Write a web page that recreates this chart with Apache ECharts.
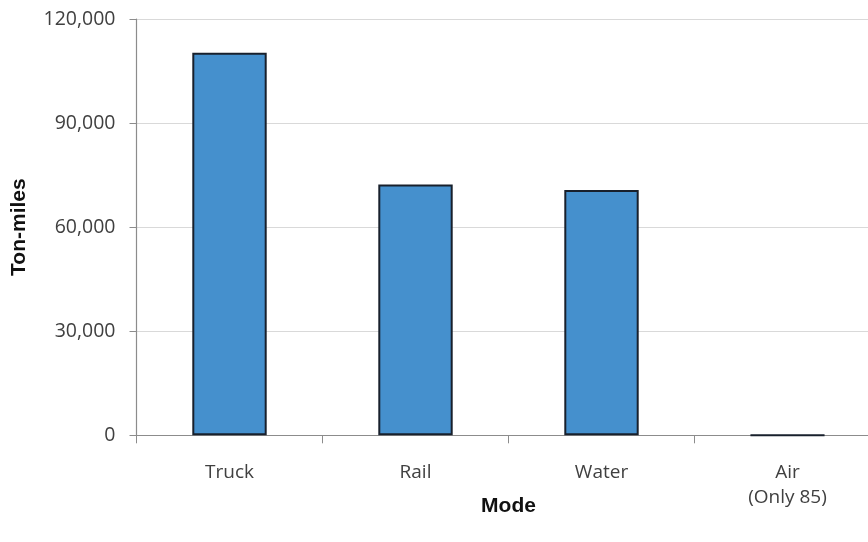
<!DOCTYPE html>
<html>
<head>
<meta charset="utf-8">
<script src="https://cdn.jsdelivr.net/npm/echarts@6/dist/echarts.min.js"></script>
<style>
html,body{margin:0;padding:0;background:#fff;}
#chart{width:868px;height:542px;}
</style>
</head>
<body>
<div id="chart"></div>
<script>
var categories = ['Truck', 'Rail', 'Water', 'Air\n(Only 85)'];
var tonMiles = [110300, 72300, 70700, 85];
var yTicks = [0, 30000, 60000, 90000, 120000];

var chart = echarts.init(document.getElementById('chart'));
chart.setOption({
  animation: false,
  grid: {left: 136.5, top: 19, right: -12.5, bottom: 106.7, outerBoundsMode: 'none', containLabel: false},
  xAxis: {
    type: 'category',
    data: categories,
    name: 'Mode',
    nameLocation: 'middle',
    nameGap: 60,
    nameMoveOverlap: false,
    nameTextStyle: {fontFamily: 'Liberation Sans', fontWeight: 'bold', fontSize: 21, color: '#111'},
    axisLine: {lineStyle: {color: '#8c8c8c', width: 1.2}},
    axisTick: {show: true, length: 8, lineStyle: {color: '#8c8c8c'}},
    axisLabel: {fontFamily: 'Open Sans', fontSize: 19, color: '#404040', margin: 25, lineHeight: 25}
  },
  yAxis: {
    type: 'value',
    min: yTicks[0],
    max: yTicks[yTicks.length - 1],
    interval: yTicks[1] - yTicks[0],
    name: 'Ton-miles',
    nameLocation: 'middle',
    nameGap: 107,
    nameMoveOverlap: false,
    nameTextStyle: {fontFamily: 'Liberation Sans', fontWeight: 'bold', fontSize: 21, color: '#111'},
    axisLine: {show: true, lineStyle: {color: '#8c8c8c', width: 1.2}},
    axisTick: {show: true, length: 7, lineStyle: {color: '#8c8c8c'}},
    splitLine: {lineStyle: {color: '#d9d9d9', width: 1.2}},
    axisLabel: {
      fontFamily: 'Open Sans', fontSize: 19.5, color: '#404040', margin: 21,
      formatter: function (v) { return v.toLocaleString('en-US'); }
    }
  },
  series: [{
    type: 'bar',
    data: tonMiles,
    barWidth: '40%',
    itemStyle: {color: '#4590cd', borderColor: '#18202c', borderWidth: 2}
  }]
});
</script>
</body>
</html>
